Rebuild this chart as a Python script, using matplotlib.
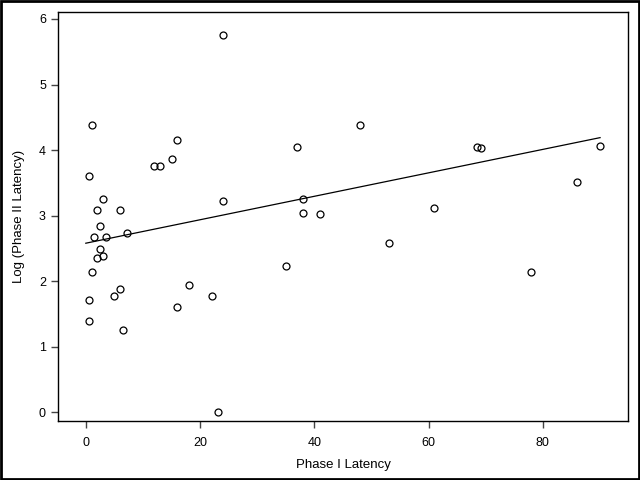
import numpy as np
import matplotlib
matplotlib.use("Agg")
import matplotlib.pyplot as plt
from matplotlib.patches import Rectangle

plt.rcParams['font.family'] = ['Liberation Sans', 'DejaVu Sans']

# Phase I latency vs log(Phase II latency)
phase1 = [24.07, 1.14, 48.0, 16.0, 37.0, 68.5, 69.1, 90.0, 15.14, 12.0, 13.07,
          0.64, 86.0, 3.07, 38.07, 24.07, 2.0, 6.07, 61.0, 38.07, 41.07, 2.57,
          1.5, 3.57, 7.14, 53.14, 2.57, 3.07, 2.0, 35.07, 1.14, 77.9, 18.07,
          6.07, 5.0, 22.14, 0.64, 16.0, 0.64, 6.57, 23.07]
logphase2 = [5.75, 4.38, 4.38, 4.16, 4.04, 4.05, 4.03, 4.06, 3.87, 3.75, 3.75,
             3.60, 3.51, 3.25, 3.25, 3.22, 3.08, 3.08, 3.11, 3.04, 3.02, 2.85,
             2.67, 2.67, 2.74, 2.59, 2.49, 2.39, 2.35, 2.24, 2.14, 2.14, 1.94,
             1.88, 1.78, 1.78, 1.71, 1.60, 1.39, 1.25, 0.0]

x = np.array(phase1)
y = np.array(logphase2)

# fitted line
line_x = [0.0, 90.0]
line_y = [2.58, 4.19]

fig = plt.figure(figsize=(6.4, 4.8), dpi=100)
ax = fig.add_axes([0.0913, 0.1235, 0.8897, 0.8515])

ax.plot(x, y, 'o', mfc='none', mec='black', ms=5, mew=0.9)
ax.plot(line_x, line_y, color='black', lw=0.9)

ax.set_xlim(-4.79, 94.86)
ax.set_ylim(-0.127, 6.106)
ax.set_xticks([0, 20, 40, 60, 80])
ax.set_yticks([0, 1, 2, 3, 4, 5, 6])
ax.tick_params(direction='out', length=5, width=1, labelsize=9,
               color='#444444', labelcolor='black')
ax.tick_params(axis='x', pad=7)
ax.tick_params(axis='y', pad=4)
for s in ax.spines.values():
    s.set_linewidth(1)

ax.set_xlabel('Phase I Latency', fontsize=9.5, labelpad=7)
ax.set_ylabel('Log (Phase II Latency)', fontsize=9.5, labelpad=10)

fig.patches.append(Rectangle((0.0015, 0.002), 0.997, 0.996, transform=fig.transFigure,
                             fill=False, edgecolor='black', lw=2))

fig.savefig('out.png', dpi=100)
